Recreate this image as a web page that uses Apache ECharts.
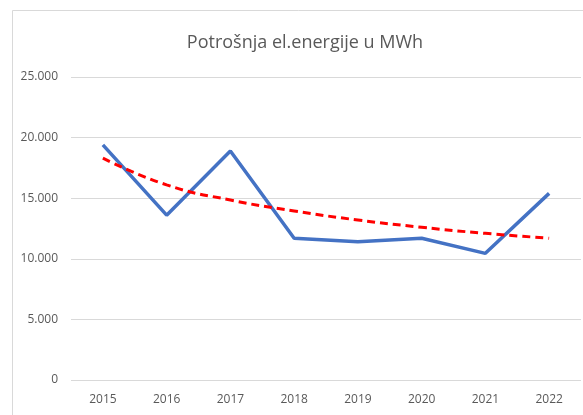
<!DOCTYPE html>
<html>
<head>
<meta charset="utf-8">
<script src="https://cdn.jsdelivr.net/npm/echarts@6/dist/echarts.min.js"></script>
<style>
  html, body { margin: 0; padding: 0; background: #fff; }
  #chart { width: 583px; height: 415px; }
</style>
</head>
<body>
<div id="chart"></div>
<script>
var years = ['2015', '2016', '2017', '2018', '2019', '2020', '2021', '2022'];
var consumption = [19400, 13600, 18900, 11700, 11400, 11700, 10450, 15400];
var trend = [18300, 16100, 14850, 13950, 13200, 12600, 12100, 11700];

var myChart = echarts.init(document.getElementById('chart'));
var font = 'Open Sans';

var option = {
  backgroundColor: '#ffffff',
  animation: false,
  title: {
    text: 'Potrošnja el.energije u MWh',
    left: 300,
    textAlign: 'center',
    top: 29,
    textStyle: { fontFamily: font, fontSize: 18, fontWeight: 'normal', color: '#595959' }
  },
  graphic: [{
    type: 'rect',
    shape: { x: 12.5, y: 10.5, width: 600, height: 420 },
    style: { fill: 'none', stroke: '#d9d9d9', lineWidth: 1 },
    silent: true
  }],
  grid: { left: 71, right: 2, top: 77, bottom: 35 },
  xAxis: {
    type: 'category',
    data: years,
    axisLine: { show: false },
    axisTick: { show: false },
    axisLabel: { fontFamily: font, fontSize: 12, color: '#595959', margin: 14 }
  },
  yAxis: {
    type: 'value',
    min: 0,
    max: 25000,
    interval: 5000,
    splitLine: { lineStyle: { color: '#d9d9d9', width: 1 } },
    axisLabel: {
      fontFamily: font, fontSize: 12, color: '#595959', margin: 13,
      formatter: function (v) { return v === 0 ? '0' : (v / 1000).toFixed(0) + '.000'; }
    }
  },
  series: [
    {
      name: 'Potrošnja',
      type: 'line',
      data: consumption,
      symbol: 'none',
      lineStyle: { color: '#4472c4', width: 3.5 },
      z: 2
    },
    {
      name: 'Trend',
      type: 'line',
      data: trend,
      symbol: 'none',
      smooth: true,
      lineStyle: { color: '#ff0000', width: 3, type: [8, 5] },
      z: 3
    }
  ]
};
myChart.setOption(option);
</script>
</body>
</html>
